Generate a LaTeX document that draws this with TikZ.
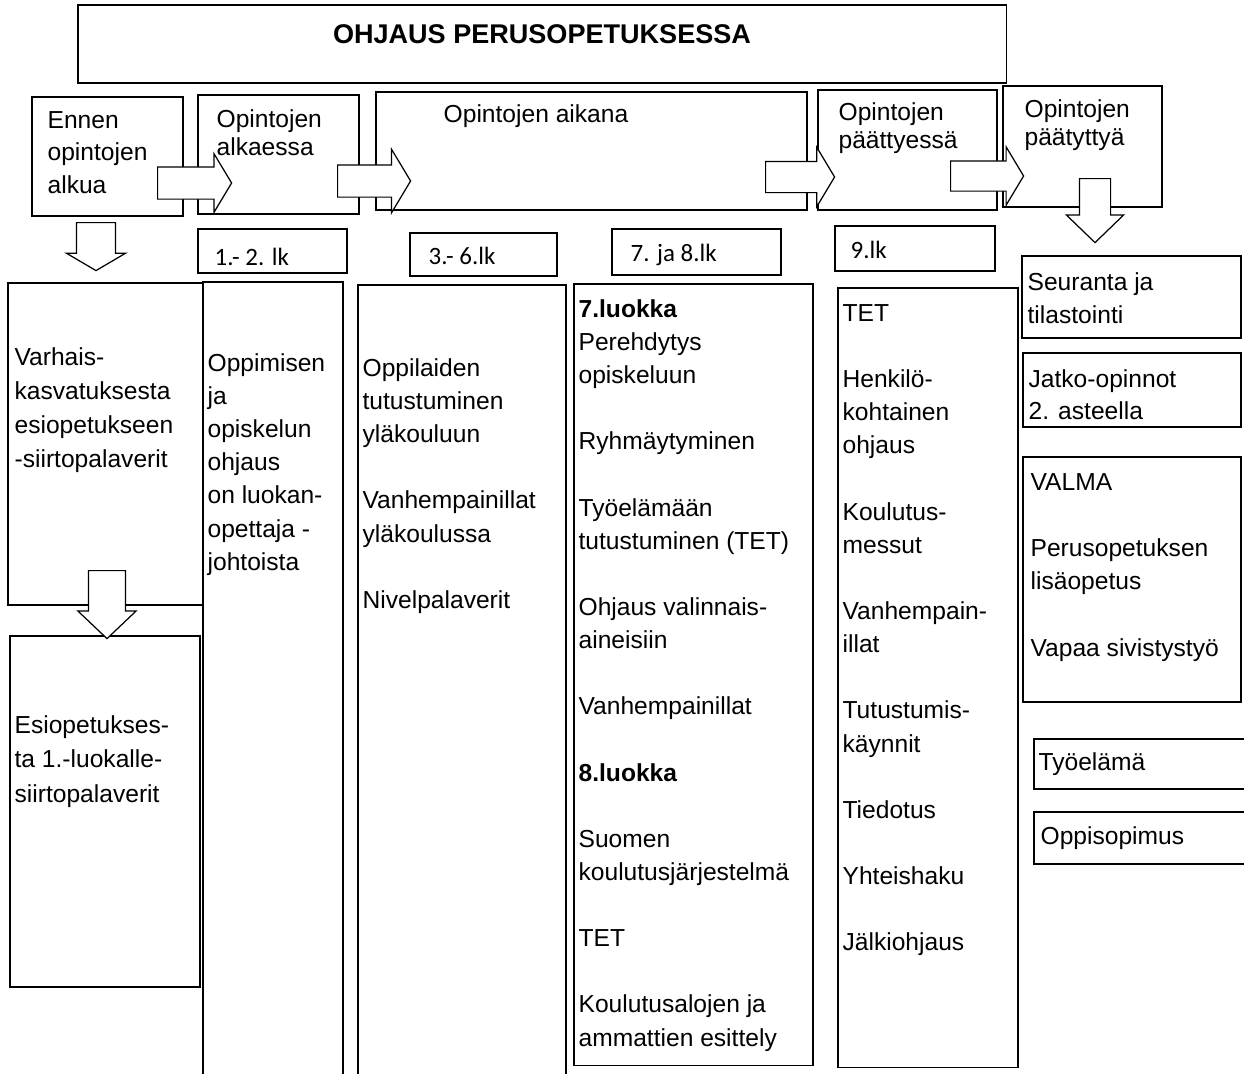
\documentclass[tikz,border=0pt]{standalone}
\usepackage{fontspec}
\setmainfont{Liberation Sans}
\newfontfamily\lkfont{Carlito}
\usepackage{tikz}
\usetikzlibrary{shapes.arrows}
\newcommand\lnstart{\rule{0pt}{13pt}}

\begin{document}
\begin{tikzpicture}[x=0.02cm,y=-0.02cm,line width=0.7pt,
box/.style={draw,anchor=north west,inner sep=0,outer sep=0},
txt/.style={anchor=north west,inner sep=0,align=left,font=\fontsize{14}{18.85}\selectfont},
lk/.style={anchor=base west,inner sep=0,font=\lkfont\fontsize{14.2}{17}\selectfont},
barrow/.style={single arrow,draw,fill=white,inner xsep=0,minimum width=0pt,single arrow head indent=0,anchor=tail}]
\useasboundingbox (0,0) rectangle (1244,1073);
% title and phases
\node[box,minimum width=18.58cm,minimum height=1.56cm](tbox) at (78,5){};
\node[anchor=base,inner sep=0,font=\bfseries\fontsize{15.4}{18}\selectfont](ttl) at (542,43){OHJAUS PERUSOPETUKSESSA};
\node[box,minimum width=3.02cm,minimum height=2.38cm](e1) at (32,97){};
\node[box,minimum width=3.22cm,minimum height=2.38cm](e2) at (198,95){};
\node[box,minimum width=8.62cm,minimum height=2.36cm](e3) at (376,92){};
\node[box,minimum width=3.58cm,minimum height=2.40cm](e4) at (818,90){};
\node[box,minimum width=3.18cm,minimum height=2.42cm](e5) at (1003,86){};
\node[txt,font=\fontsize{14}{18.5}\selectfont](e1t) at (47,105){\lnstart Ennen\\opintojen\\alkua};
\node[txt,font=\fontsize{14}{16}\selectfont](e2t) at (216,104){\lnstart Opintojen\\alkaessa};
\node[txt,anchor=base](e3t) at (536,122){Opintojen aikana};
\node[txt,font=\fontsize{14}{16}\selectfont](e4t) at (838,97){\lnstart Opintojen\\päättyessä};
\node[txt,font=\fontsize{14}{16}\selectfont](e5t) at (1024,94){\lnstart Opintojen\\päätyttyä};
% grades
\node[box,minimum width=2.98cm,minimum height=0.88cm](g1) at (198,229){};
\node[box,minimum width=2.94cm,minimum height=0.86cm](g2) at (410,233){};
\node[box,minimum width=3.38cm,minimum height=0.92cm](g3) at (612,229){};
\node[box,minimum width=3.20cm,minimum height=0.90cm](g4) at (835,226){};
\node[lk](g1t) at (214,265){1.- 2. lk};
\node[lk](g2t) at (428,264){3.- 6.lk};
\node[lk](g3t) at (630,261){7. ja 8.lk};
\node[lk](g4t) at (850,258){9.lk};
% columns
\node[box,minimum width=3.90cm,minimum height=6.44cm](c1) at (8,283){};
\node[box,minimum width=3.80cm,minimum height=7.02cm](c1b) at (10,636){};
\node[box,minimum width=2.80cm,minimum height=16.16cm](c2) at (203,282){};
\node[box,minimum width=4.16cm,minimum height=16.10cm](c3) at (358,285){};
\node[box,minimum width=4.78cm,minimum height=15.64cm](c4) at (574,284){};
\node[box,minimum width=3.60cm,minimum height=15.60cm](c5) at (838,288){};
\node[txt,font=\fontsize{14}{19.4}\selectfont](c1t) at (14,342){\lnstart Varhais-\\kasvatuksesta\\esiopetukseen\\-siirtopalaverit};
\node[txt,font=\fontsize{14}{19.6}\selectfont](c1bt) at (14,710){\lnstart Esiopetukses-\\ta 1.-luokalle-\\siirtopalaverit};
\node[txt](c2t) at (207,348){\lnstart Oppimisen\\ja\\opiskelun\\ohjaus\\on luokan-\\opettaja -\\johtoista};
\node[txt](c3t) at (362,353){\lnstart Oppilaiden\\tutustuminen\\yläkouluun\\[18.85pt]Vanhempainillat\\yläkoulussa\\[18.85pt]Nivelpalaverit};
\node[txt](c4t) at (578,294){\lnstart\textbf{7.luokka}\\Perehdytys\\opiskeluun\\[18.85pt]Ryhmäytyminen\\[18.85pt]Työelämään\\tutustuminen (TET)\\[18.85pt]Ohjaus valinnais-\\aineisiin\\[18.85pt]Vanhempainillat\\[18.85pt]\textbf{8.luokka}\\[18.85pt]Suomen\\koulutusjärjestelmä\\[18.85pt]TET\\[18.85pt]Koulutusalojen ja\\ammattien esittely};
\node[txt](c5t) at (842,298){\lnstart TET\\[18.85pt]Henkilö-\\kohtainen\\ohjaus\\[18.85pt]Koulutus-\\messut\\[18.85pt]Vanhempain-\\illat\\[18.85pt]Tutustumis-\\käynnit\\[18.85pt]Tiedotus\\[18.85pt]Yhteishaku\\[18.85pt]Jälkiohjaus};
% after
\node[box,minimum width=4.38cm,minimum height=1.64cm](r1) at (1022,256){};
\node[box,minimum width=4.36cm,minimum height=1.48cm](r2) at (1023,353){};
\node[box,minimum width=4.36cm,minimum height=4.90cm](r3) at (1023,457){};
\node[box,minimum width=4.52cm,minimum height=1.00cm](r4) at (1034,739){};
\node[box,minimum width=4.52cm,minimum height=1.04cm](r5) at (1034,812){};
\node[txt](r1t) at (1027,267){\lnstart Seuranta ja\\tilastointi};
\node[txt,font=\fontsize{14}{18}\selectfont](r2t) at (1028,364){\lnstart Jatko-opinnot\\2. asteella};
\node[txt](r3t) at (1030,467){\lnstart VALMA\\[18.85pt]Perusopetuksen\\lisäopetus\\[18.85pt]Vapaa sivistystyö};
\node[txt,anchor=base west](r4t) at (1038,770){Työelämä};
\node[txt,anchor=base west](r5t) at (1040,844){Oppisopimus};
% block arrows
\node[barrow,minimum height=1.48cm,inner ysep=0.31cm,single arrow head extend=0.26cm,single arrow tip angle=118](a1) at (157,183){};
\node[barrow,minimum height=1.46cm,inner ysep=0.31cm,single arrow head extend=0.31cm,single arrow tip angle=118](a2) at (337,181){};
\node[barrow,minimum height=1.38cm,inner ysep=0.30cm,single arrow head extend=0.28cm,single arrow tip angle=118](a3) at (765,177){};
\node[barrow,minimum height=1.46cm,inner ysep=0.29cm,single arrow head extend=0.28cm,single arrow tip angle=118](a4) at (950,176){};
\node[barrow,rotate=-90,minimum height=0.96cm,inner ysep=0.38cm,single arrow head extend=0.20cm,single arrow tip angle=119](d1) at (96,222){};
\node[barrow,rotate=-90,minimum height=1.36cm,inner ysep=0.36cm,single arrow head extend=0.21cm,single arrow tip angle=93](d2) at (107,570){};
\node[barrow,rotate=-90,minimum height=1.28cm,inner ysep=0.30cm,single arrow head extend=0.26cm,single arrow tip angle=92](d3) at (1095,178){};
\end{tikzpicture}
\end{document}
